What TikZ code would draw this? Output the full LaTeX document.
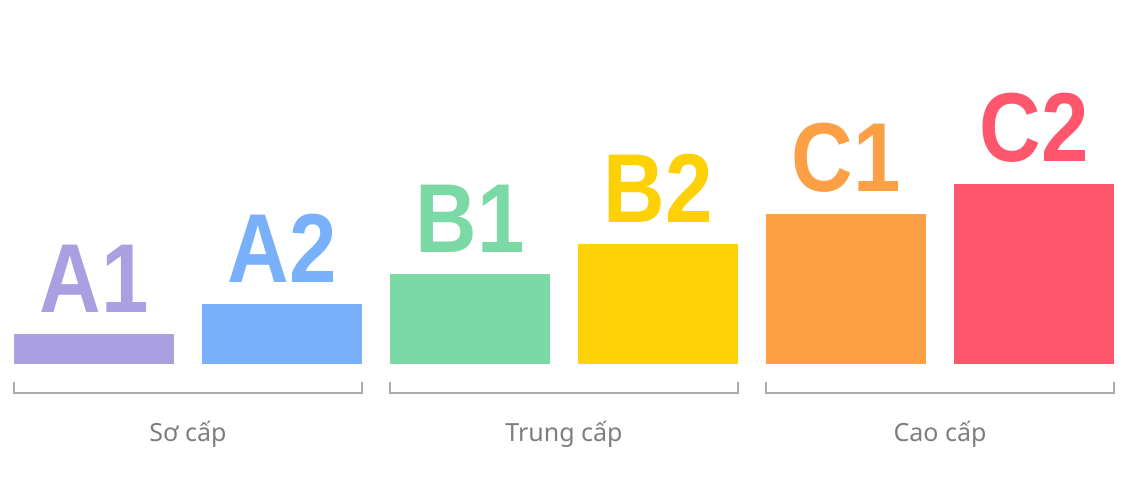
\documentclass[tikz,border=0pt]{standalone}
\usepackage{fontspec}
\setmainfont{Noto Sans}
\newfontfamily\gradefont{Liberation Sans}[FakeStretch=0.87]
\usetikzlibrary{positioning,calc}
\definecolor{lvla}{HTML}{A99FE1}
\definecolor{lvlb}{HTML}{78B1F9}
\definecolor{lvlc}{HTML}{7BD9A6}
\definecolor{lvld}{HTML}{FDD106}
\definecolor{lvle}{HTML}{FD9F44}
\definecolor{lvlf}{HTML}{FE576D}
\definecolor{rule}{HTML}{ABABAB}
\definecolor{muted}{HTML}{7E7E7E}
\tikzset{
  bar/.style={rectangle,draw=none,minimum width=160pt,inner sep=0pt,outer sep=0pt},
  grade/.style={font=\gradefont\bfseries\fontsize{98}{98}\selectfont,inner sep=0pt,anchor=base},
  bracket/.style={draw=rule,line width=1.6pt},
  groupname/.style={font=\fontsize{25}{26}\selectfont,text=muted,anchor=base}
}

\begin{document}
\begin{tikzpicture}[x=1pt,y=-1pt]
    \useasboundingbox (0,0) rectangle (1130,480);
    % bars
    \node[bar,fill=lvla,minimum height=30pt,anchor=south west] (a1) at (14,364) {};
    \node[bar,fill=lvlb,minimum height=60pt,right=28pt of a1.south east,anchor=south west] (a2) {};
    \node[bar,fill=lvlc,minimum height=90pt,right=28pt of a2.south east,anchor=south west] (b1) {};
    \node[bar,fill=lvld,minimum height=120pt,right=28pt of b1.south east,anchor=south west] (b2) {};
    \node[bar,fill=lvle,minimum height=150pt,right=28pt of b2.south east,anchor=south west] (c1) {};
    \node[bar,fill=lvlf,minimum height=180pt,right=28pt of c1.south east,anchor=south west] (c2) {};
    % level letters
    \node[grade,text=lvla,above=22pt of a1.north,anchor=base] (a1txt) {A1};
    \node[grade,text=lvlb,above=22pt of a2.north,anchor=base] (a2txt) {A2};
    \node[grade,text=lvlc,above=22pt of b1.north,anchor=base] (b1txt) {B1};
    \node[grade,text=lvld,above=22pt of b2.north,anchor=base] (b2txt) {B2};
    \node[grade,text=lvle,above=23pt of c1.north,anchor=base] (c1txt) {C1};
    \node[grade,text=lvlf,above=23pt of c2.north,anchor=base] (c2txt) {C2};
    % brackets
    \foreach \lo/\hi in {a1/a2,b1/b2,c1/c2}{
      \coordinate (\lo l) at ([yshift=-29pt]\lo.south west);
      \coordinate (\hi r) at ([yshift=-29pt]\hi.south east);
      \draw[bracket] ([yshift=11pt]\lo l) -- (\lo l) -- (\hi r) -- ([yshift=11pt]\hi r);
    }
    \node[groupname] (socap) at ($(a1l)!0.5!(a2r)+(0,-48pt)$) {Sơ cấp};
    \node[groupname] (trungcap) at ($(b1l)!0.5!(b2r)+(0,-48pt)$) {Trung cấp};
    \node[groupname] (caocap) at ($(c1l)!0.5!(c2r)+(0,-48pt)$) {Cao cấp};
  \end{tikzpicture}
\end{document}
